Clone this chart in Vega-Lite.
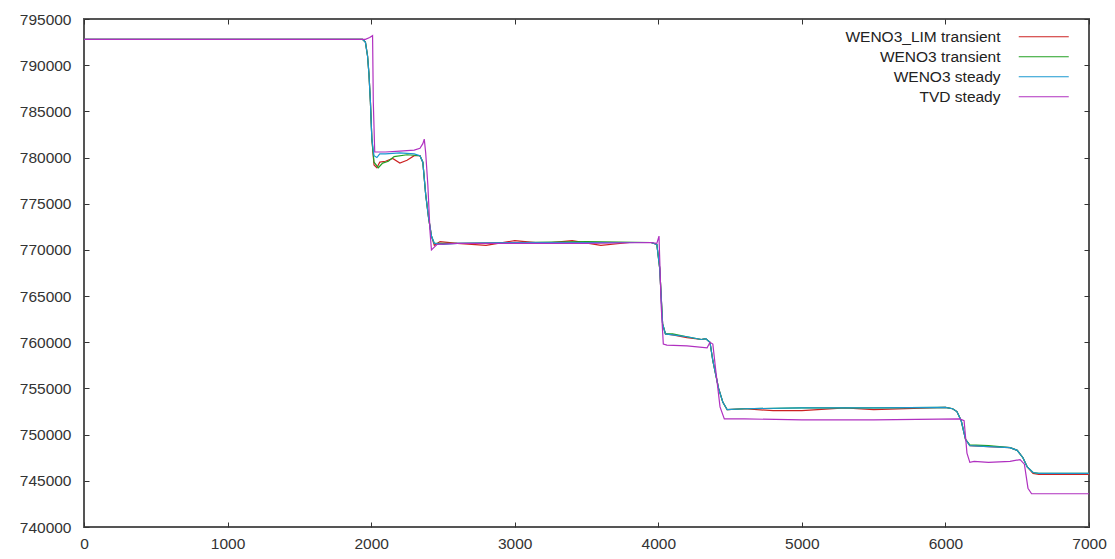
{
  "$schema": "https://vega.github.io/schema/vega-lite/v6.json",
  "width": 1005,
  "height": 508,
  "autosize": {"type": "none"},
  "padding": {"left": 84, "top": 19, "right": 26, "bottom": 32},
  "background": "white",
  "config": {
    "view": {"stroke": "#555", "strokeWidth": 2},
    "font": "Liberation Sans",
    "axis": {"grid": false, "domain": false, "labelFont": "Liberation Sans", "labelFontSize": 15.5, "labelColor": "#333", "tickColor": "#333", "ticks": true, "tickSize": 5, "offset": -5, "title": null}
  },
  "data": {"values": [
    {"s":"WENO3_LIM transient","x":0,"y":792800},{"s":"WENO3_LIM transient","x":1940,"y":792800},{"s":"WENO3_LIM transient","x":1960,"y":792500},{"s":"WENO3_LIM transient","x":1975,"y":791000},{"s":"WENO3_LIM transient","x":1985,"y":789000},{"s":"WENO3_LIM transient","x":1995,"y":786000},{"s":"WENO3_LIM transient","x":2005,"y":782000},{"s":"WENO3_LIM transient","x":2020,"y":779200},{"s":"WENO3_LIM transient","x":2040,"y":778900},{"s":"WENO3_LIM transient","x":2060,"y":779500},{"s":"WENO3_LIM transient","x":2100,"y":779600},{"s":"WENO3_LIM transient","x":2150,"y":779900},{"s":"WENO3_LIM transient","x":2200,"y":779400},{"s":"WENO3_LIM transient","x":2250,"y":779700},{"s":"WENO3_LIM transient","x":2300,"y":780200},{"s":"WENO3_LIM transient","x":2340,"y":780200},{"s":"WENO3_LIM transient","x":2360,"y":779500},{"s":"WENO3_LIM transient","x":2380,"y":776000},{"s":"WENO3_LIM transient","x":2400,"y":773500},{"s":"WENO3_LIM transient","x":2420,"y":771500},{"s":"WENO3_LIM transient","x":2440,"y":770500},{"s":"WENO3_LIM transient","x":2480,"y":770900},{"s":"WENO3_LIM transient","x":2600,"y":770700},{"s":"WENO3_LIM transient","x":2800,"y":770500},{"s":"WENO3_LIM transient","x":3000,"y":771000},{"s":"WENO3_LIM transient","x":3200,"y":770700},{"s":"WENO3_LIM transient","x":3400,"y":771000},{"s":"WENO3_LIM transient","x":3600,"y":770500},{"s":"WENO3_LIM transient","x":3800,"y":770800},{"s":"WENO3_LIM transient","x":3950,"y":770800},{"s":"WENO3_LIM transient","x":3990,"y":770600},{"s":"WENO3_LIM transient","x":4010,"y":768000},{"s":"WENO3_LIM transient","x":4030,"y":762000},{"s":"WENO3_LIM transient","x":4050,"y":760900},{"s":"WENO3_LIM transient","x":4100,"y":760800},{"s":"WENO3_LIM transient","x":4200,"y":760500},{"s":"WENO3_LIM transient","x":4300,"y":760300},{"s":"WENO3_LIM transient","x":4330,"y":760400},{"s":"WENO3_LIM transient","x":4360,"y":760000},{"s":"WENO3_LIM transient","x":4380,"y":758000},{"s":"WENO3_LIM transient","x":4420,"y":755000},{"s":"WENO3_LIM transient","x":4450,"y":753500},{"s":"WENO3_LIM transient","x":4480,"y":752700},{"s":"WENO3_LIM transient","x":4600,"y":752800},{"s":"WENO3_LIM transient","x":4800,"y":752600},{"s":"WENO3_LIM transient","x":5000,"y":752600},{"s":"WENO3_LIM transient","x":5300,"y":752900},{"s":"WENO3_LIM transient","x":5500,"y":752700},{"s":"WENO3_LIM transient","x":6000,"y":752950},{"s":"WENO3_LIM transient","x":6050,"y":752800},{"s":"WENO3_LIM transient","x":6080,"y":752500},{"s":"WENO3_LIM transient","x":6110,"y":751500},{"s":"WENO3_LIM transient","x":6140,"y":749500},{"s":"WENO3_LIM transient","x":6170,"y":748800},{"s":"WENO3_LIM transient","x":6300,"y":748700},{"s":"WENO3_LIM transient","x":6450,"y":748600},{"s":"WENO3_LIM transient","x":6500,"y":748300},{"s":"WENO3_LIM transient","x":6540,"y":747500},{"s":"WENO3_LIM transient","x":6570,"y":746500},{"s":"WENO3_LIM transient","x":6610,"y":745800},{"s":"WENO3_LIM transient","x":6650,"y":745700},{"s":"WENO3_LIM transient","x":7000,"y":745700},

    {"s":"WENO3 transient","x":0,"y":792800},{"s":"WENO3 transient","x":1940,"y":792800},{"s":"WENO3 transient","x":1960,"y":792500},{"s":"WENO3 transient","x":1975,"y":791000},{"s":"WENO3 transient","x":1985,"y":789000},{"s":"WENO3 transient","x":1995,"y":786000},{"s":"WENO3 transient","x":2005,"y":782000},{"s":"WENO3 transient","x":2020,"y":779500},{"s":"WENO3 transient","x":2050,"y":778900},{"s":"WENO3 transient","x":2080,"y":779400},{"s":"WENO3 transient","x":2120,"y":779600},{"s":"WENO3 transient","x":2160,"y":780100},{"s":"WENO3 transient","x":2250,"y":780300},{"s":"WENO3 transient","x":2340,"y":780200},{"s":"WENO3 transient","x":2360,"y":779500},{"s":"WENO3 transient","x":2380,"y":776000},{"s":"WENO3 transient","x":2400,"y":773500},{"s":"WENO3 transient","x":2420,"y":771500},{"s":"WENO3 transient","x":2440,"y":770700},{"s":"WENO3 transient","x":2600,"y":770700},{"s":"WENO3 transient","x":3000,"y":770800},{"s":"WENO3 transient","x":3500,"y":770900},{"s":"WENO3 transient","x":3950,"y":770800},{"s":"WENO3 transient","x":3990,"y":770600},{"s":"WENO3 transient","x":4010,"y":768000},{"s":"WENO3 transient","x":4030,"y":762000},{"s":"WENO3 transient","x":4050,"y":760900},{"s":"WENO3 transient","x":4100,"y":760900},{"s":"WENO3 transient","x":4200,"y":760600},{"s":"WENO3 transient","x":4300,"y":760300},{"s":"WENO3 transient","x":4330,"y":760400},{"s":"WENO3 transient","x":4360,"y":760000},{"s":"WENO3 transient","x":4380,"y":758000},{"s":"WENO3 transient","x":4420,"y":755000},{"s":"WENO3 transient","x":4450,"y":753500},{"s":"WENO3 transient","x":4480,"y":752700},{"s":"WENO3 transient","x":4600,"y":752800},{"s":"WENO3 transient","x":5000,"y":752900},{"s":"WENO3 transient","x":5500,"y":752900},{"s":"WENO3 transient","x":6000,"y":752950},{"s":"WENO3 transient","x":6050,"y":752800},{"s":"WENO3 transient","x":6080,"y":752500},{"s":"WENO3 transient","x":6110,"y":751500},{"s":"WENO3 transient","x":6140,"y":749500},{"s":"WENO3 transient","x":6170,"y":748900},{"s":"WENO3 transient","x":6300,"y":748800},{"s":"WENO3 transient","x":6450,"y":748600},{"s":"WENO3 transient","x":6500,"y":748300},{"s":"WENO3 transient","x":6540,"y":747500},{"s":"WENO3 transient","x":6570,"y":746500},{"s":"WENO3 transient","x":6610,"y":745900},{"s":"WENO3 transient","x":6650,"y":745800},{"s":"WENO3 transient","x":7000,"y":745800},

    {"s":"WENO3 steady","x":0,"y":792800},{"s":"WENO3 steady","x":1940,"y":792800},{"s":"WENO3 steady","x":1960,"y":792500},{"s":"WENO3 steady","x":1975,"y":791000},{"s":"WENO3 steady","x":1985,"y":789000},{"s":"WENO3 steady","x":1995,"y":786000},{"s":"WENO3 steady","x":2005,"y":782000},{"s":"WENO3 steady","x":2020,"y":780200},{"s":"WENO3 steady","x":2040,"y":780000},{"s":"WENO3 steady","x":2060,"y":780400},{"s":"WENO3 steady","x":2100,"y":780400},{"s":"WENO3 steady","x":2200,"y":780500},{"s":"WENO3 steady","x":2300,"y":780400},{"s":"WENO3 steady","x":2340,"y":780200},{"s":"WENO3 steady","x":2360,"y":779500},{"s":"WENO3 steady","x":2380,"y":776000},{"s":"WENO3 steady","x":2400,"y":773500},{"s":"WENO3 steady","x":2420,"y":771500},{"s":"WENO3 steady","x":2440,"y":770700},{"s":"WENO3 steady","x":2500,"y":770600},{"s":"WENO3 steady","x":2600,"y":770700},{"s":"WENO3 steady","x":3000,"y":770800},{"s":"WENO3 steady","x":3500,"y":770800},{"s":"WENO3 steady","x":3950,"y":770800},{"s":"WENO3 steady","x":3990,"y":770600},{"s":"WENO3 steady","x":4010,"y":768000},{"s":"WENO3 steady","x":4030,"y":762000},{"s":"WENO3 steady","x":4050,"y":760900},{"s":"WENO3 steady","x":4100,"y":760800},{"s":"WENO3 steady","x":4200,"y":760600},{"s":"WENO3 steady","x":4300,"y":760300},{"s":"WENO3 steady","x":4330,"y":760400},{"s":"WENO3 steady","x":4360,"y":760000},{"s":"WENO3 steady","x":4380,"y":758000},{"s":"WENO3 steady","x":4420,"y":755000},{"s":"WENO3 steady","x":4450,"y":753500},{"s":"WENO3 steady","x":4480,"y":752700},{"s":"WENO3 steady","x":4600,"y":752800},{"s":"WENO3 steady","x":5000,"y":752900},{"s":"WENO3 steady","x":5500,"y":752900},{"s":"WENO3 steady","x":6000,"y":752950},{"s":"WENO3 steady","x":6050,"y":752800},{"s":"WENO3 steady","x":6080,"y":752500},{"s":"WENO3 steady","x":6110,"y":751500},{"s":"WENO3 steady","x":6140,"y":749500},{"s":"WENO3 steady","x":6170,"y":748800},{"s":"WENO3 steady","x":6300,"y":748700},{"s":"WENO3 steady","x":6450,"y":748600},{"s":"WENO3 steady","x":6500,"y":748300},{"s":"WENO3 steady","x":6540,"y":747500},{"s":"WENO3 steady","x":6570,"y":746500},{"s":"WENO3 steady","x":6610,"y":745900},{"s":"WENO3 steady","x":6650,"y":745800},{"s":"WENO3 steady","x":7000,"y":745800},

    {"s":"TVD steady","x":0,"y":792800},{"s":"TVD steady","x":1960,"y":792800},{"s":"TVD steady","x":1990,"y":793000},{"s":"TVD steady","x":2010,"y":793200},{"s":"TVD steady","x":2015,"y":786000},{"s":"TVD steady","x":2025,"y":780600},{"s":"TVD steady","x":2100,"y":780600},{"s":"TVD steady","x":2200,"y":780700},{"s":"TVD steady","x":2300,"y":780800},{"s":"TVD steady","x":2340,"y":781000},{"s":"TVD steady","x":2360,"y":781500},{"s":"TVD steady","x":2370,"y":782000},{"s":"TVD steady","x":2380,"y":780500},{"s":"TVD steady","x":2395,"y":777000},{"s":"TVD steady","x":2410,"y":772000},{"s":"TVD steady","x":2420,"y":770000},{"s":"TVD steady","x":2440,"y":770300},{"s":"TVD steady","x":2460,"y":770600},{"s":"TVD steady","x":2600,"y":770700},{"s":"TVD steady","x":3000,"y":770700},{"s":"TVD steady","x":3500,"y":770700},{"s":"TVD steady","x":3950,"y":770800},{"s":"TVD steady","x":3990,"y":770700},{"s":"TVD steady","x":4005,"y":771500},{"s":"TVD steady","x":4020,"y":764000},{"s":"TVD steady","x":4035,"y":759800},{"s":"TVD steady","x":4060,"y":759700},{"s":"TVD steady","x":4200,"y":759600},{"s":"TVD steady","x":4340,"y":759400},{"s":"TVD steady","x":4360,"y":760000},{"s":"TVD steady","x":4380,"y":759800},{"s":"TVD steady","x":4400,"y":757000},{"s":"TVD steady","x":4430,"y":753000},{"s":"TVD steady","x":4460,"y":751700},{"s":"TVD steady","x":4600,"y":751700},{"s":"TVD steady","x":5000,"y":751600},{"s":"TVD steady","x":5500,"y":751600},{"s":"TVD steady","x":6100,"y":751700},{"s":"TVD steady","x":6130,"y":751500},{"s":"TVD steady","x":6150,"y":748000},{"s":"TVD steady","x":6170,"y":747000},{"s":"TVD steady","x":6200,"y":747100},{"s":"TVD steady","x":6300,"y":747000},{"s":"TVD steady","x":6450,"y":747100},{"s":"TVD steady","x":6520,"y":747300},{"s":"TVD steady","x":6550,"y":746800},{"s":"TVD steady","x":6575,"y":744200},{"s":"TVD steady","x":6600,"y":743600},{"s":"TVD steady","x":7000,"y":743600}
  ]},
  "layer": [
    {
      "mark": {"type": "line", "strokeWidth": 1.2, "clip": true},
      "encoding": {
        "x": {"field": "x", "type": "quantitative", "scale": {"domain": [0, 7000], "nice": false, "zero": false}, "axis": {"orient": "bottom", "values": [0,1000,2000,3000,4000,5000,6000,7000], "format": "d", "labelPadding": 9, "labelFlush": false}},
        "y": {"field": "y", "type": "quantitative", "scale": {"domain": [740000, 795000], "nice": false, "zero": false}, "axis": {"orient": "left", "values": [740000,745000,750000,755000,760000,765000,770000,775000,780000,785000,790000,795000], "format": "d", "labelPadding": 13}},
        "color": {"field": "s", "type": "nominal",
          "scale": {"domain": ["WENO3_LIM transient", "WENO3 transient", "WENO3 steady", "TVD steady"], "range": ["#cc2222", "#22a022", "#1a98d0", "#b030c0"]},
          "legend": {"title": null, "orient": "none", "legendX": 952, "legendY": 10, "symbolType": "M-5,0H5", "symbolSize": 100, "symbolStrokeWidth": 1.2, "labelOffset": -51, "labelAlign": "right", "labelFontSize": 15.5, "labelFont": "Liberation Sans", "labelColor": "#222", "labelLimit": 300, "rowPadding": 3, "padding": 0}
        },
        "order": {"field": "x", "type": "quantitative"}
      }
    },
    {
      "mark": {"type": "line", "opacity": 0},
      "encoding": {
        "x": {"field": "x", "type": "quantitative", "axis": {"orient": "top", "values": [0,1000,2000,3000,4000,5000,6000,7000], "labels": false}},
        "y": {"field": "y", "type": "quantitative", "axis": {"orient": "right", "values": [740000,745000,750000,755000,760000,765000,770000,775000,780000,785000,790000,795000], "labels": false}},
        "detail": {"field": "s", "type": "nominal"}
      }
    }
  ],
  "resolve": {"axis": {"x": "independent", "y": "independent"}}
}
